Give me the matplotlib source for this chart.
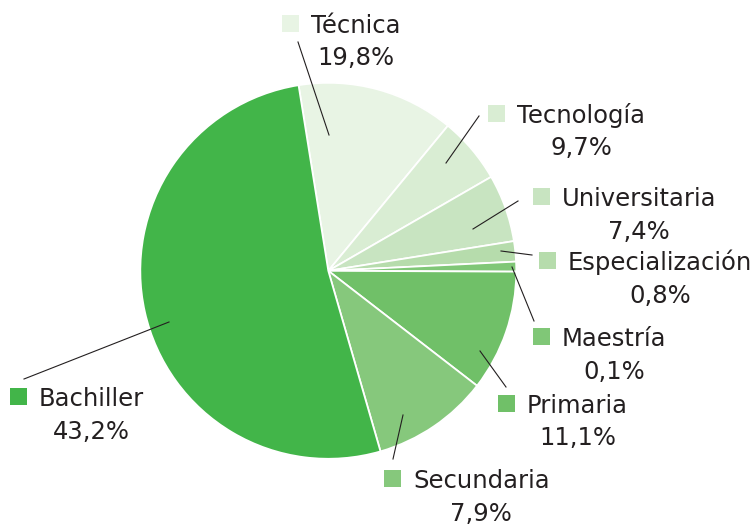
import matplotlib
matplotlib.use("Agg")
import matplotlib.pyplot as plt
from matplotlib.patches import Rectangle

# ---- data (clockwise from the top) ----
categories = ["Técnica", "Tecnología", "Universitaria", "Especialización",
              "Maestría", "Primaria", "Secundaria", "Bachiller"]
label_pcts = ["19,8%", "9,7%", "7,4%", "0,8%", "0,1%", "11,1%", "7,9%", "43,2%"]
# wedge sizes as drawn in the picture (share of the circle, %)
wedge_sizes = [13.5, 5.7, 5.8, 1.75, 0.85, 10.4, 10.05, 51.95]
colors = ["#e8f4e4", "#d9edd3", "#c8e4c1", "#b6dcac",
          "#80c777", "#70c068", "#86c87c", "#42b549"]

W, H = 756, 524
fig = plt.figure(figsize=(W / 100, H / 100), dpi=100)
ax = fig.add_axes([0, 0, 1, 1])

def P(x, y):
    return (x, H - y)

center = P(328.3, 270.8)
ax.pie(wedge_sizes, colors=colors, startangle=99.1, counterclock=False,
       center=center, radius=188,
       wedgeprops=dict(edgecolor="white", linewidth=1.3))

ax.set_xlim(0, W)
ax.set_ylim(0, H)
ax.set_aspect("equal")
ax.axis("off")

TXT = "#231f20"
FS = 17.5

# layout: (name left x, name baseline y, leader line start, leader line end)
layout = {
    "Técnica":         (311, 33,  (298, 42),  (329, 135)),
    "Tecnología":      (517, 123, (479, 116), (446, 163)),
    "Universitaria":   (562, 206, (518, 201), (473, 229)),
    "Especialización": (568, 270, (532, 255), (501, 251)),
    "Maestría":        (562, 346, (534, 321), (512, 267)),
    "Primaria":        (527, 413, (506, 387), (480, 351)),
    "Secundaria":      (413, 488, (393, 459), (403, 415)),
    "Bachiller":       (39,  406, (24, 379),  (169, 322)),
}

fig.canvas.draw()
renderer = fig.canvas.get_renderer()

for name, pct, col in zip(categories, label_pcts, colors):
    nx, ny, l0, l1 = layout[name]
    t = ax.text(*P(nx, ny), name, fontsize=FS, color=TXT,
                ha="left", va="baseline", family="DejaVu Sans")
    bb = t.get_window_extent(renderer=renderer)
    cx = (bb.x0 + bb.x1) / 2
    ax.text(cx, H - (ny + 32.5), pct, fontsize=FS, color=TXT,
            ha="center", va="baseline", family="DejaVu Sans")
    # colored square
    sq = 17
    ax.add_patch(Rectangle((nx - 12 - sq, H - (ny - 1)), sq, sq,
                           facecolor=col, edgecolor="none"))
    ax.plot([l0[0], l1[0]], [H - l0[1], H - l1[1]], color=TXT, lw=0.8)

fig.savefig("out.png", dpi=100)
